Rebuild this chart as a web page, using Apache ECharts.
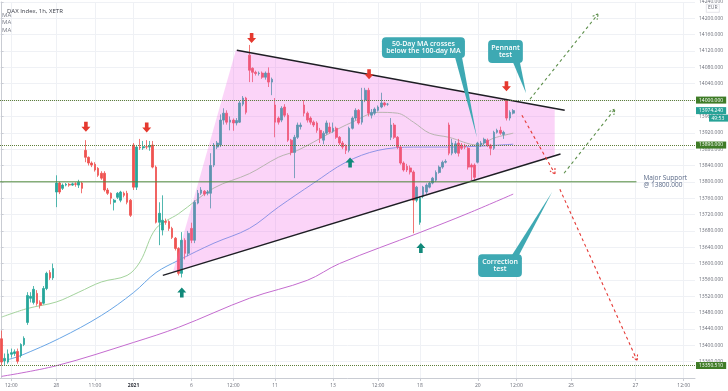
<!DOCTYPE html>
<html><head><meta charset="utf-8">
<script src="https://cdn.jsdelivr.net/npm/echarts@6/dist/echarts.min.js"></script>
<style>html,body{margin:0;padding:0;background:#fff}#c{width:728px;height:391px}</style>
</head><body><div id="c"></div>
<script>
const SLOTS = 216;
const tickIdx  = [3, 17, 29, 41, 59, 72, 85, 103, 117, 130, 148, 160, 177, 197, 212];
const tickText = ['12:00','28','11:00','2021','6','12:00','11','13','12:00','18','20','12:00','25','27','12:00'];

const opens = [13416,13362,13359,13378,13380,13385,13375,13402,13456,13515,13505,13527,13505,13503,13539,13578,13565,
13775,13797,13784,13792,13794,13792,13795,13792,13797,
13877,13860,13846,13843,13833,13821,13821,13780,13772,
13750,13762,13755,13772,13772,13755,
13890,13787,13885,13883,13886,13885,13890,13836,13701,
13682,13703,13703,13686,13662,13637,13576,13657,13625,
13686,13657,13748,13772,13777,13772,13772,13841,13885,
13890,13951,13968,13946,13951,13944,13946,13990,14005,
14110,14078,14068,14065,14066,14056,14066,14044,
13988,13956,13951,13983,13963,13902,13872,13909,13935,
13988,13968,13956,13946,13944,13926,13902,13919,13934,
13924,13931,13909,13895,13888,13877,13931,13956,13975,
13946,14000,14024,13963,13968,13975,13983,13993,13990,
13909,13939,13909,13885,13846,13838,13834,13824,13755,
13701,13765,13775,13787,13797,13804,13823,13836,13848,
13939,13870,13872,13895,13890,13888,13882,13841,13841,
13848,13890,13895,13902,13890,13882,13921,13926,13916,
14000,13956,13968];
const closes = [13359,13368,13379,13382,13384,13361,13402,13417,13522,13520,13537,13502,13498,13539,13576,13565,13588,
13797,13775,13792,13794,13792,13795,13794,13799,13784,
13860,13846,13841,13829,13816,13809,13780,13772,13760,
13755,13772,13775,13767,13750,13718,
13787,13885,13883,13886,13885,13887,13836,13701,13723,
13706,13701,13686,13664,13637,13576,13657,13625,13674,
13657,13750,13772,13780,13770,13775,13840,13890,13895,
13951,13968,13946,13951,13944,13950,13993,14005,13970,
14073,14068,14065,14066,14056,14066,14044,14051,
13946,13946,13980,13963,13902,13872,13909,13939,13939,
13968,13951,13946,13939,13926,13907,13919,13944,13922,
13931,13909,13895,13885,13877,13931,13956,13975,13944,
14000,14024,13968,13970,13978,13983,13993,13988,13990,
13939,13909,13885,13846,13829,13829,13824,13755,13787,
13760,13787,13792,13797,13809,13823,13836,13848,13850,
13870,13895,13893,13870,13882,13885,13836,13836,13811,
13895,13895,13904,13890,13882,13921,13926,13919,13921,
13956,13970,13974.24];
const lows = [13351,13352,13355,13370,13374,13355,13370,13398,13450,13505,13500,13497,13490,13500,13535,13560,13560,
13738,13770,13780,13789,13788,13790,13788,13785,13772,
13848,13840,13836,13825,13812,13805,13776,13768,13745,
13730,13758,13750,13762,13745,13714,
13780,13780,13878,13878,13880,13876,13833,13698,13645,
13669,13695,13680,13660,13632,13571,13566,13610,13618,
13650,13650,13745,13768,13765,13767,13735,13836,13880,
13885,13940,13940,13926,13925,13938,13944,13985,13965,
14044,14044,14060,14060,14052,14050,14032,14012,
13909,13940,13946,13958,13898,13865,13809,13905,13928,
13960,13945,13940,13934,13920,13895,13892,13915,13918,
13920,13905,13890,13880,13868,13872,13928,13950,13940,
13940,13995,13960,13955,13963,13972,13980,13984,13986,
13902,13905,13880,13842,13825,13824,13818,13674,13750,
13695,13760,13770,13784,13794,13800,13820,13832,13845,
13865,13865,13868,13862,13878,13880,13830,13804,13805,
13845,13885,13890,13885,13865,13878,13918,13915,13905,
13950,13950,13965];
const highs = [13436,13380,13390,13392,13390,13392,13405,13422,13530,13530,13545,13535,13510,13545,13580,13584,13600,
13816,13800,13796,13797,13797,13798,13799,13805,13800,
13902,13862,13850,13848,13836,13826,13826,13785,13774,
13758,13775,13778,13776,13778,13758,
13895,13890,13905,13900,13902,13900,13900,13840,13750,
13767,13710,13706,13690,13665,13640,13677,13662,13680,
13700,13755,13780,13787,13780,13780,13870,13895,13900,
13965,13980,13975,13960,13955,13956,13998,14010,14008,
14135,14080,14072,14070,14070,14070,14080,14055,
14005,13960,13985,13990,13968,13905,13915,13945,13945,
14000,13972,13960,13950,13948,13932,13924,13950,13945,
13945,13935,13912,13900,13892,13935,13960,13980,13978,
14030,14030,14030,13978,13982,13987,14018,13996,13993,
13956,13944,13912,13888,13850,13844,13840,13828,13790,
13765,13790,13796,13800,13812,13828,13840,13852,13855,
13945,13905,13900,13905,13895,13893,13885,13845,13845,
13898,13900,13908,13906,13893,13925,13930,13935,13925,
14003,13975,13978];

// moving averages, read at sample bars [barIndex, price]
const maFast = [[0,13469],[8,13490],[17,13506],[24,13530],[31,13555],[39,13571],[43,13604],[48,13686],[55,13722],[66,13785],[77,13820],[86,13860],[92,13877],[102,13919],[109,13946],[117,13970],[123,13968],[128,13946],[133,13919],[139,13909],[148,13890],[153,13907],[159,13919]];
const maMid  = [[2,13365],[6,13375],[18,13417],[31,13473],[41,13529],[48,13578],[55,13608],[66,13650],[77,13686],[86,13738],[97,13797],[107,13848],[117,13877],[128,13885],[139,13885],[148,13887],[159,13892]];
const maSlow = [[0,13324],[17,13350],[41,13407],[55,13444],[77,13515],[95,13559],[105,13600],[130,13676],[145,13723],[159,13770]];

// drawings (bar index, price)
const upperLine = [[73.1,14122],[175,13975]];
const lowerLine = [[50.1,13571],[173.7,13868]];
const pennantZone = [[53.2,13578],[72.8,14122],[171.9,13980],[171.9,13864]];
const supportLine = [[-0.5,13800],[197.3,13800]];
const levelLines = [14000, 13890, 13350.51];
const lastPrice = 13974.24;
const downArrows = [[26.2,13935],[45.1,13933],[77.7,14152],[114.2,14063],[156.9,14034]];
const upArrows = [[56,13529],[108.3,13847],[130.3,13638]];
const bullPaths = [[164.2,14002,185.4,14211],[174.8,13821,190.6,13978]];
const bearPaths = [[161.7,13963,172,13819],[173.5,13782,197.5,13363]];
const calloutText = ['50-Day MA crosses\nbelow the 100-day MA','Pennant\ntest','Correction\ntest'];
const calloutBox = [[118.2,14154,144.0,14103],[151.2,14147,162.0,14091],[148.1,13623,161.7,13567]];
const calloutTip = [[147.7,13909],[163.0,14017],[171.1,13775]];
const pennantLabelAt = [[80.3,13750]];

const FONT = '"Open Sans","DejaVu Sans",sans-serif';
const CALL = '#3ea9b3';
const chart = echarts.init(document.getElementById('c'), null, {renderer:'canvas'});
const cats = Array.from({length: SLOTS}, (_, i) => 'b' + i);
const labelOf = {}; tickIdx.forEach((k, j) => { labelOf[k] = tickText[j]; });
const isTick = (i) => labelOf[i] !== undefined;
const candles = opens.map((o, i) => [o, closes[i], lows[i], highs[i]]);

function dashArrow(color) {
  return function (p, api) {
    const a = api.coord([api.value(0), api.value(1)]);
    const b = api.coord([api.value(2), api.value(3)]);
    const dx = b[0]-a[0], dy = b[1]-a[1], L = Math.hypot(dx, dy), ux = dx/L, uy = dy/L;
    const h = 6, c = Math.cos(0.5), s = Math.sin(0.5);
    const h1 = [b[0]-h*(ux*c-uy*s), b[1]-h*(uy*c+ux*s)];
    const h2 = [b[0]-h*(ux*c+uy*s), b[1]-h*(uy*c-ux*s)];
    return {type:'group', children:[
      {type:'polyline', shape:{points:[a,b]}, style:{stroke:color, lineWidth:1.1, lineDash:[3,3], fill:null}},
      {type:'polyline', shape:{points:[h1,b,h2]}, style:{stroke:color, lineWidth:1.1, lineDash:[2,1.5], fill:null}}
    ]};
  };
}

const option = {
  animation:false,
  backgroundColor:'#ffffff',
  title:{text:'DAX Index, 1h, XETR', left:2, top:3, textStyle:{fontSize:6, fontWeight:'normal', color:'#3b3e48', fontFamily:FONT}},
  grid:{left:0, right:33, top:2, bottom:13, containLabel:false, outerBoundsMode:'none'},
  xAxis:[{
    type:'category', data:cats, boundaryGap:true,
    axisLine:{lineStyle:{color:'#c9ccd3'}},
    axisTick:{show:true, interval:(i)=>isTick(i), alignWithLabel:true, length:3, lineStyle:{color:'#c9ccd3'}},
    axisLabel:{interval:(i)=>isTick(i), margin:5, fontSize:5, color:'#6a6d78', fontFamily:FONT,
      formatter:(v, i) => labelOf[i] === '2021' ? '{y|2021}' : (labelOf[i] || ''),
      rich:{y:{fontSize:5, fontWeight:'bold', color:'#2f323b', fontFamily:FONT}}},
    splitLine:{show:true, interval:(i)=>isTick(i), alignWithLabel:true, lineStyle:{color:'#eff1f5'}}
  },{
    type:'value', min:-0.5, max:SLOTS-0.5, show:false
  }],
  yAxis:{type:'value', position:'right', min:13320, max:14240, interval:40,
    axisLine:{show:true, lineStyle:{color:'#c9ccd3'}},
    axisTick:{show:true, length:2, lineStyle:{color:'#c9ccd3'}},
    axisLabel:{fontSize:5, color:'#6a6d78', margin:4, fontFamily:FONT, formatter:(v)=> v <= 13320 ? '' : v.toFixed(3)},
    splitLine:{show:true, lineStyle:{color:'#eff1f5'}}},
  series:[
    {type:'candlestick', xAxisIndex:0, yAxisIndex:0, data:candles, barWidth:2.2, z:2,
      itemStyle:{color:'#26a69a', color0:'#ef5350', borderColor:'#26a69a', borderColor0:'#ef5350', borderWidth:0.8}},
    {type:'line', xAxisIndex:1, data:maFast, smooth:0.35, symbol:'none', z:2, lineStyle:{color:'#a3d39c', width:1}},
    {type:'line', xAxisIndex:1, data:maMid, smooth:0.35, symbol:'none', z:2, lineStyle:{color:'#6aa6e6', width:1}},
    {type:'line', xAxisIndex:1, data:maSlow, smooth:0.35, symbol:'none', z:2, lineStyle:{color:'#c46ccf', width:1}},
    {type:'custom', xAxisIndex:1, yAxisIndex:0, z:3, silent:true, data:[[0,13800]],
      renderItem:(p, api) => ({type:'polygon', shape:{points:pennantZone.map(q => api.coord(q))}, style:{fill:'rgba(240,100,230,0.28)'}})},
    {type:'line', xAxisIndex:1, data:upperLine, symbol:'none', z:4, lineStyle:{color:'#1e1e24', width:1.4}},
    {type:'line', xAxisIndex:1, data:lowerLine, symbol:'none', z:4, lineStyle:{color:'#1e1e24', width:1.4}},
    {type:'line', xAxisIndex:1, data:supportLine, symbol:'none', z:4, lineStyle:{color:'#4f8a3b', width:1},
      endLabel:{show:true, formatter:'Major Support\n@ 13800.000', distance:7, color:'#5b6a88', fontSize:6.5, lineHeight:7, fontFamily:FONT}},
    {type:'line', xAxisIndex:1, data:[[0,14000]], symbol:'none', z:5, lineStyle:{opacity:0},
      markLine:{silent:true, symbol:['none','none'], animation:false,
        lineStyle:{type:'dotted', color:'#5e7f3a', width:1},
        label:{position:'end', distance:1, color:'#ffffff', backgroundColor:'#3f7c27', fontSize:5, padding:[1,3,1,3], fontFamily:FONT,
          formatter:(p)=> Number(p.value).toFixed(3)},
        data: levelLines.map(v => ({yAxis:v}))}},
    {type:'line', xAxisIndex:1, data:[[0,lastPrice]], symbol:'none', z:5, lineStyle:{opacity:0},
      markLine:{silent:true, symbol:['none','none'], animation:false,
        lineStyle:{type:'dotted', color:'rgba(0,0,0,0)', width:1},
        label:{position:'end', distance:1, color:'#ffffff', backgroundColor:'#27a297', fontSize:5, padding:[1,3,1,3], fontFamily:FONT,
          formatter:(p)=> Number(p.value).toFixed(3)},
        data: [{yAxis:lastPrice}]}},
    {type:'custom', xAxisIndex:1, yAxisIndex:0, z:5, silent:true, data:bullPaths, renderItem:dashArrow('#5d8f4b')},
    {type:'custom', xAxisIndex:1, yAxisIndex:0, z:5, silent:true, data:bearPaths, renderItem:dashArrow('#e53935')},
    {type:'scatter', xAxisIndex:1, data:downArrows, z:6, symbol:'path://M3,0L7,0L7,5L10,5L5,10L0,5L3,5Z', symbolSize:[9,10], itemStyle:{color:'#e5392f', opacity:1}},
    {type:'scatter', xAxisIndex:1, data:upArrows, z:6, symbol:'path://M5,0L10,5L7,5L7,10L3,10L3,5L0,5Z', symbolSize:[9,10], itemStyle:{color:'#11897a', opacity:1}},
    {type:'scatter', xAxisIndex:1, data:pennantLabelAt, z:6, symbolSize:1, itemStyle:{opacity:0},
      label:{show:true, position:'inside', formatter:'PENNANT', fontSize:13, fontWeight:'bold', color:'#5c5f6b', fontFamily:FONT}},
    {type:'custom', xAxisIndex:1, yAxisIndex:0, z:7, silent:true, data:calloutText.map((t, i) => [i, 0]),
      renderItem:(p, api) => {
        const i = p.dataIndex, bx = calloutBox[i];
        const tl = api.coord([bx[0], bx[1]]), br = api.coord([bx[2], bx[3]]);
        const tip = api.coord(calloutTip[i]);
        const below = tip[1] > br[1];
        const by = below ? br[1]-1 : tl[1]+1;
        return {type:'group', children:[
          {type:'polygon', shape:{points:[[br[0]-10,by],[br[0]-3,by],tip]}, style:{fill:CALL}},
          {type:'rect', shape:{x:tl[0], y:tl[1], width:br[0]-tl[0], height:br[1]-tl[1], r:4}, style:{fill:CALL}},
          {type:'text', style:{text:calloutText[i], x:(tl[0]+br[0])/2, y:(tl[1]+br[1])/2, align:'center', verticalAlign:'middle',
            fill:'#ffffff', fontSize:7, fontWeight:600, fontFamily:FONT, lineHeight:7.5}}
        ]};
      }}
  ]
};
chart.setOption(option);

const py = chart.convertToPixel({yAxisIndex:0}, lastPrice);
chart.setOption({graphic:[
  {type:'text', left:2, top:12, style:{text:'MA', fontSize:6, fill:'#787b86', fontFamily:FONT}},
  {type:'text', left:2, top:19.5, style:{text:'MA', fontSize:6, fill:'#787b86', fontFamily:FONT}},
  {type:'text', left:2, top:27, style:{text:'MA', fontSize:6, fill:'#787b86', fontFamily:FONT}},
  {type:'rect', left:706, top:4, shape:{width:13, height:8}, style:{fill:'#ffffff', stroke:'#d1d4dc', lineWidth:0.6}, z:10},
  {type:'text', left:708, top:5.5, style:{text:'EUR', fontSize:5, fill:'#6a6d78', fontFamily:FONT}, z:11},
  {type:'rect', left:709, top:py+4, shape:{width:19, height:7}, style:{fill:'#27a297'}, z:10},
  {type:'text', left:711.5, top:py+5.2, style:{text:'49:53', fontSize:5, fill:'#ffffff', fontFamily:FONT}, z:11}
]});
</script>
</body></html>
